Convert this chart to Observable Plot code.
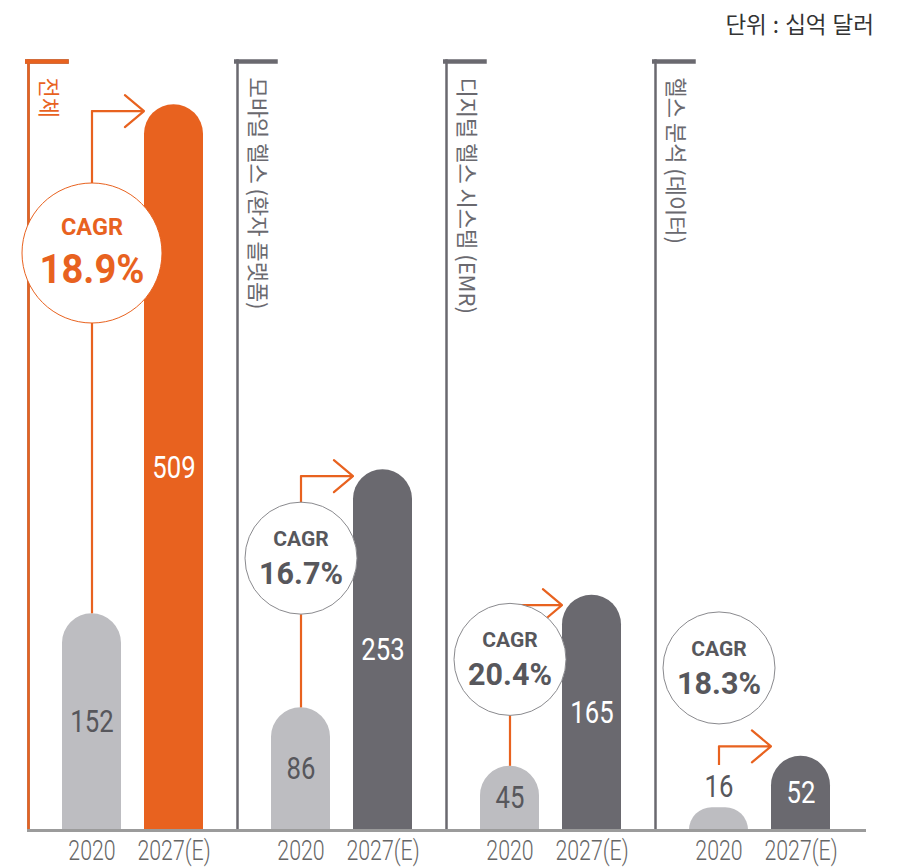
<!DOCTYPE html>
<html>
<head>
<meta charset="utf-8">
<script src="https://cdn.jsdelivr.net/npm/d3@7"></script>
<script src="https://cdn.jsdelivr.net/npm/@observablehq/plot@0.6"></script>
<style>
  html, body { margin: 0; padding: 0; background: #fff; }
  #unit { height: 40px; line-height: 46px; text-align: right; padding-right: 24px; word-spacing: 1px;
          font-family: "Noto Sans CJK KR", sans-serif; font-size: 22.5px; color: #333; box-sizing: border-box; width: 898px; }
  #chart svg { display: block; }
</style>
</head>
<body>
<div id="unit"></div>
<div id="chart"></div>
<script>
// ---- data ----
const groups = ["전체", "모바일 헬스 (환자 플랫폼)", "디지털 헬스 시스템 (EMR)", "헬스 분석 (데이터)"];
const years = ["2020", "2027(E)"];
const value2020 = [152, 86, 45, 16];
const value2027 = [509, 253, 165, 52];
const cagr = ["18.9%", "16.7%", "20.4%", "18.3%"];
const unitNote = "단위 : 십억 달러";

// ---- annotation layout (in data units, billions) ----
const badgeLevel = [405, 191, 120, 114];
const arrowLevel = [504.5, 248.5, 158, 59];
const arrowStart = [152, 86, 45, 45.6];
const yMax = 540;

const ORANGE = "#e8621f";
const DARK = "#6a696f";
const LIGHT = "#bdbdc1";
const TEXT_DARK = "#57575c";
const NUM_FONT = "Roboto, 'DejaVu Sans Condensed', sans-serif";
const KR_FONT = "'Noto Sans CJK KR', sans-serif";

document.getElementById("unit").textContent = unitNote;

const rows = groups.map((g, i) => ({
  group: g, v2020: value2020[i], v2027: value2027[i], cagr: cagr[i],
  badge: badgeLevel[i], arrowY: arrowLevel[i], arrowFrom: arrowStart[i], highlight: i === 0
}));
const bars = rows.flatMap(r => years.map((y, j) => ({
  group: r.group, year: y, value: j ? r.v2027 : r.v2020, highlight: r.highlight
})));
const minInside = 30;
const insideLabels = bars.filter(d => d.value >= minInside);
const outsideLabels = bars.filter(d => d.value < minInside);
const bigBadge = rows.filter(d => d.highlight);
const smallBadge = rows.filter(d => !d.highlight);

const barFill = d => d.year === years[0] ? LIGHT : (d.highlight ? ORANGE : DARK);
const groupColor = d => d.highlight ? ORANGE : DARK;
const badgeText = d => d.highlight ? ORANGE : TEXT_DARK;

const chart = Plot.plot({
  width: 898,
  height: 827,
  marginTop: 20,
  marginBottom: 37,
  marginLeft: 15,
  marginRight: 22,
  fx: {domain: groups, paddingInner: 0, paddingOuter: 0.0525, axis: null},
  x: {domain: years, type: "band", paddingInner: 0.277, paddingOuter: 0.402},
  y: {domain: [0, yMax], axis: null},
  color: {type: "identity"},
  style: {background: "white", overflow: "visible"},
  marks: [
    Plot.frame({anchor: "left", stroke: DARK, strokeWidth: 2.5}),
    Plot.frame({anchor: "top", stroke: DARK, strokeWidth: 4.5, insetTop: 1, insetLeft: -1.25, insetRight: 171}),
    Plot.frame({anchor: "left", fx: groups[0], stroke: ORANGE, strokeWidth: 2.5}),
    Plot.frame({anchor: "top", fx: groups[0], stroke: ORANGE, strokeWidth: 4.5, insetTop: 1, insetLeft: -1.25, insetRight: 171}),
    Plot.barY(bars, {fx: "group", x: "year", y: "value", fill: barFill, ry1: 30}),
    Plot.frame({anchor: "bottom", facet: "super", stroke: "#9b9b9b", strokeWidth: 3}),
    Plot.ruleX(rows, {fx: "group", x: () => years[0], y1: "arrowFrom", y2: "arrowY",
      stroke: ORANGE, strokeWidth: 2.2}),
    Plot.arrow(rows, {fx: "group", x1: () => years[0], x2: () => years[1], y1: "arrowY", y2: "arrowY",
      insetEnd: 30, headAngle: 80, headLength: 17, stroke: ORANGE, strokeWidth: 2.2}),
    Plot.dot(bigBadge, {fx: "group", x: () => years[0], y: "badge", r: 70, fill: "white",
      stroke: ORANGE, strokeWidth: 1}),
    Plot.dot(smallBadge, {fx: "group", x: () => years[0], y: "badge", r: 56, fill: "white",
      stroke: "#8a8a8e", strokeWidth: 1}),
    Plot.text(bigBadge, {fx: "group", x: () => years[0], y: "badge", text: () => "CAGR", dy: -26,
      fontSize: 23.5, fontWeight: "bold", fontFamily: NUM_FONT, fill: badgeText}),
    Plot.text(bigBadge, {fx: "group", x: () => years[0], y: "badge", text: "cagr", dy: 17,
      fontSize: 41, fontWeight: "bold", fontFamily: NUM_FONT, fill: badgeText, className: "narrow93"}),
    Plot.text(smallBadge, {fx: "group", x: () => years[0], y: "badge", text: () => "CAGR", dy: -19,
      fontSize: 21, fontWeight: "bold", fontFamily: NUM_FONT, fill: badgeText}),
    Plot.text(smallBadge, {fx: "group", x: () => years[0], y: "badge", text: "cagr", dy: 16,
      fontSize: 30.5, fontWeight: "bold", fontFamily: NUM_FONT, fill: badgeText}),
    Plot.text(insideLabels, {fx: "group", x: "year", y: d => d.value / 2, text: d => String(d.value),
      fontSize: 31, fontFamily: NUM_FONT, fill: d => d.year === years[0] ? TEXT_DARK : "white", className: "narrow83"}),
    Plot.text(outsideLabels, {fx: "group", x: "year", y: "value", text: d => String(d.value), dy: -21,
      fontSize: 31, fontFamily: NUM_FONT, fill: TEXT_DARK, className: "narrow83"}),
    Plot.text(rows, {fx: "group", text: "group", frameAnchor: "top-left", rotate: 90,
      textAnchor: "start", lineAnchor: "middle", dx: 20, dy: 17, fontSize: 22, letterSpacing: "-1px",
      fontFamily: KR_FONT, fill: groupColor}),
    Plot.axisX({tickSize: 0, tickPadding: 10, fontSize: 27, fontWeight: 300, fontFamily: NUM_FONT,
      fill: "#666", label: null, className: "narrow79"})
  ]
});

// horizontally condense number labels (the original uses a condensed typeface)
const narrowScales = {narrow93: 0.93, narrow83: 0.83, narrow79: 0.79};
for (const [cls, s] of Object.entries(narrowScales)) {
  chart.querySelectorAll(`.${cls} text`).forEach(t => {
    const tr = t.getAttribute("transform");
    if (tr) t.setAttribute("transform", `${tr} scale(${s},1)`);
  });
}
document.getElementById("chart").append(chart);
</script>
</body>
</html>
